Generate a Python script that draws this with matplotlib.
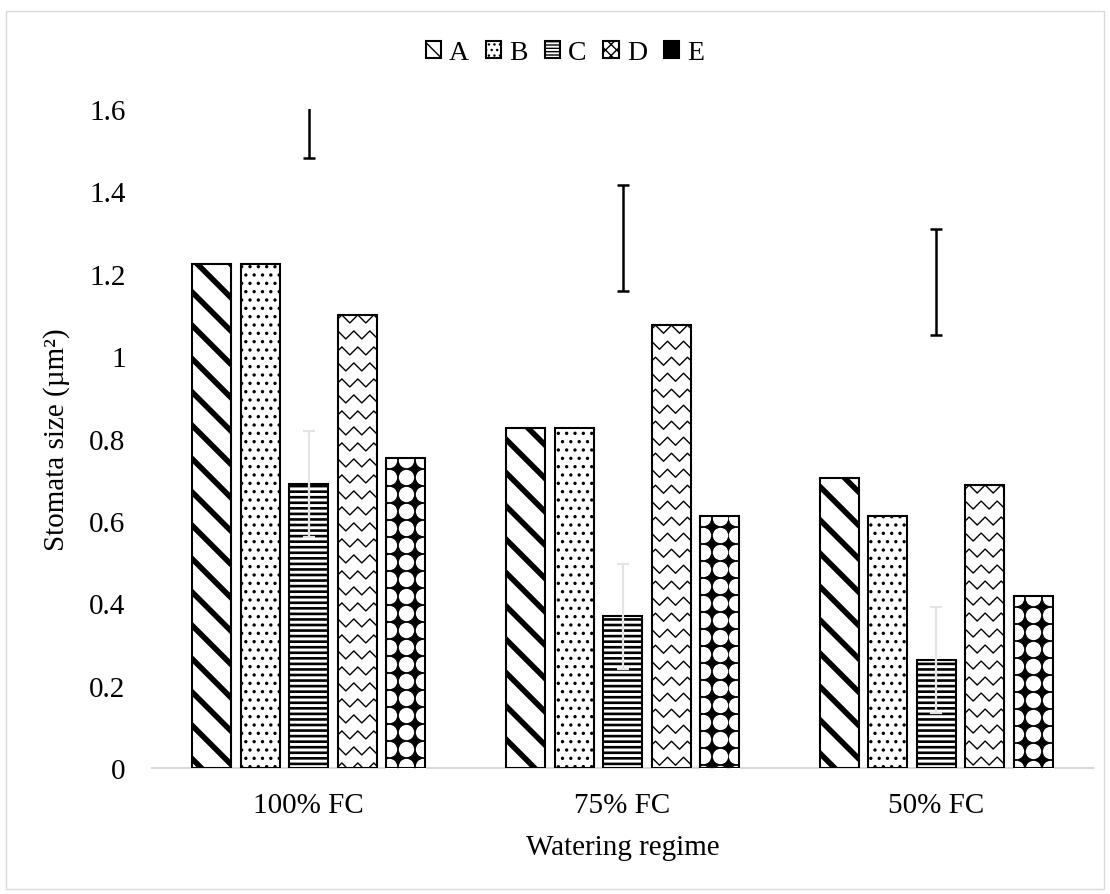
import numpy as np
import matplotlib
matplotlib.use("Agg")
import matplotlib.pyplot as plt
from matplotlib.patches import Patch, Rectangle
from matplotlib.collections import LineCollection

plt.rcParams['font.family'] = ['Liberation Serif', 'DejaVu Serif']

regimes = ['100% FC', '75% FC', '50% FC']
genotypes = ['A', 'B', 'C', 'D', 'E']
size_A = [1.223, 0.825, 0.704]
size_B = [1.223, 0.825, 0.612]
size_C = [0.690, 0.368, 0.262]
size_D = [1.100, 1.075, 0.687]
size_E = [0.752, 0.612, 0.417]
err_C = [0.128, 0.127, 0.128]
# interval bars drawn over the C positions
ci_mid = [1.610, 1.286, 1.180]
ci_half = [0.128, 0.129, 0.128]

DPI = 100
fig = plt.figure(figsize=(11.10, 8.95), dpi=DPI)
ax = fig.add_axes([152/1110, 126/895, 941/1110, 659/895])
ax.set_xlim(-0.5, 2.5)
ax.set_ylim(0, 1.6)

px_x = ax.bbox.width / 3.0
px_y = ax.bbox.height / 1.6

width = 39 / px_x
pitch = 48.5 / px_x
x = np.arange(len(regimes))


def set_hatch_lw(patches, lw):
    for p in patches:
        if hasattr(p, 'set_hatch_linewidth'):
            p.set_hatch_linewidth(lw)


def zigzag_fill(rect, step, lw=1.0):
    x0, y0 = rect.get_x(), rect.get_y()
    w, h = rect.get_width(), rect.get_height()
    sx, sy = step / px_x, step / px_y
    xs = np.arange(x0 - sx, x0 + w + sx, sx / 2)
    segs = []
    for k, yb in enumerate(np.arange(y0 + h + sy, y0 - sy, -sy)):
        ys = yb - np.where(np.arange(len(xs)) % 2 == 0, 0, sy / 2)
        shift = (k % 2) * sx / 4
        segs.append(np.column_stack([xs + shift, ys]))
    lc = LineCollection(segs, colors='black', linewidths=lw, zorder=2.5)
    ax.add_collection(lc, autolim=False)
    lc.set_clip_path(rect)


def circle_fill(rect, step, frac):
    x0, y0 = rect.get_x(), rect.get_y()
    w, h = rect.get_width(), rect.get_height()
    sx, sy = step / px_x, step / px_y
    cx = x0 + w / 2
    xs = cx + np.arange(-3, 4) * sx
    ys = y0 + h - 0.1 * sy - np.arange(0, h / sy + 2) * sy
    X, Y = np.meshgrid(xs, ys)
    d_pt = step * 72 / DPI * frac
    sc = ax.scatter(X.ravel(), Y.ravel(), s=d_pt ** 2, c='white',
                    marker='o', linewidths=0, zorder=2.5)
    sc.set_clip_path(rect)


edge_lw = 1.5

plt.rcParams['hatch.linewidth'] = 4.0
bars_A = ax.bar(x - 2 * pitch, size_A, width, facecolor='white', edgecolor='black',
                linewidth=edge_lw, hatch='\\', zorder=2)
set_hatch_lw(bars_A, 4.0)

plt.rcParams['hatch.linewidth'] = 1.2
bars_B = ax.bar(x - pitch, size_B, width, facecolor='white', edgecolor='black',
                linewidth=edge_lw, hatch='..', zorder=2)
set_hatch_lw(bars_B, 1.2)

plt.rcParams['hatch.linewidth'] = 1.9
bars_C = ax.bar(x, size_C, width, facecolor='white', edgecolor='black',
                linewidth=edge_lw, hatch='---', zorder=2)
set_hatch_lw(bars_C, 1.9)

plt.rcParams['hatch.linewidth'] = 1.0
bars_D = ax.bar(x + pitch, size_D, width, facecolor='white', edgecolor='none', zorder=2)
for r in bars_D:
    zigzag_fill(r, 16)
ax.bar(x + pitch, size_D, width, fill=False, edgecolor='black', linewidth=edge_lw, zorder=3)

bars_E = ax.bar(x + 2 * pitch, size_E, width, facecolor='black', edgecolor='none', zorder=2)
for r in bars_E:
    circle_fill(r, 17, 0.9)
ax.bar(x + 2 * pitch, size_E, width, fill=False, edgecolor='black', linewidth=edge_lw, zorder=3)

# error bars on C
ax.errorbar(x, size_C, yerr=err_C, fmt='none', ecolor='#e4e4e4', elinewidth=1.6,
            capsize=4.3, capthick=1.6, zorder=4)
ax.errorbar(x, ci_mid, yerr=ci_half, fmt='none', ecolor='black', elinewidth=1.8,
            capsize=4.3, capthick=1.8, zorder=5)

for s in ['top', 'right', 'left']:
    ax.spines[s].set_visible(False)
ax.spines['bottom'].set_color('#d9d9d9')
ax.spines['bottom'].set_linewidth(1.5)
ax.spines['bottom'].set_zorder(1)

yt = np.arange(0, 1.61, 0.2)
ax.set_yticks(yt)
ax.set_yticklabels(['%g' % round(v, 1) for v in yt])
ax.set_xticks(x)
ax.set_xticklabels(regimes)
ax.tick_params(axis='both', length=0, labelsize=21)
ax.tick_params(axis='y', pad=19)
ax.tick_params(axis='x', pad=17)

ax.set_xlabel('Watering regime', fontsize=21, labelpad=12)
ax.set_ylabel('Stomata size (µm²)', fontsize=21, labelpad=14)

# legend keys with denser patterns so they read at small size
plt.rcParams['hatch.linewidth'] = 2.0
h_A = Patch(facecolor='white', edgecolor='black', hatch='\\\\', linewidth=1.5)
plt.rcParams['hatch.linewidth'] = 1.0
h_B = Patch(facecolor='white', edgecolor='black', hatch='...', linewidth=1.5)
h_C = Patch(facecolor='white', edgecolor='black', hatch='-----', linewidth=1.5)
h_D = Patch(facecolor='white', edgecolor='black', hatch='xxx', linewidth=1.5)
h_E = Patch(facecolor='black', edgecolor='black', linewidth=1.5)
set_hatch_lw([h_A], 2.0)
set_hatch_lw([h_B, h_C, h_D], 1.0)
fig.legend([h_A, h_B, h_C, h_D, h_E], genotypes, loc='center',
           bbox_to_anchor=(565/1110, 1 - 54/895), ncol=5, frameon=False,
           fontsize=20, handlelength=0.55, handleheight=0.55,
           handletextpad=0.3, columnspacing=0.6)

fig.add_artist(Rectangle((6/1110, 5/895), 1098/1110, 878/895, transform=fig.transFigure,
                         fill=False, edgecolor='#d9d9d9', linewidth=1.0))

fig.savefig('out.png', dpi=DPI)
